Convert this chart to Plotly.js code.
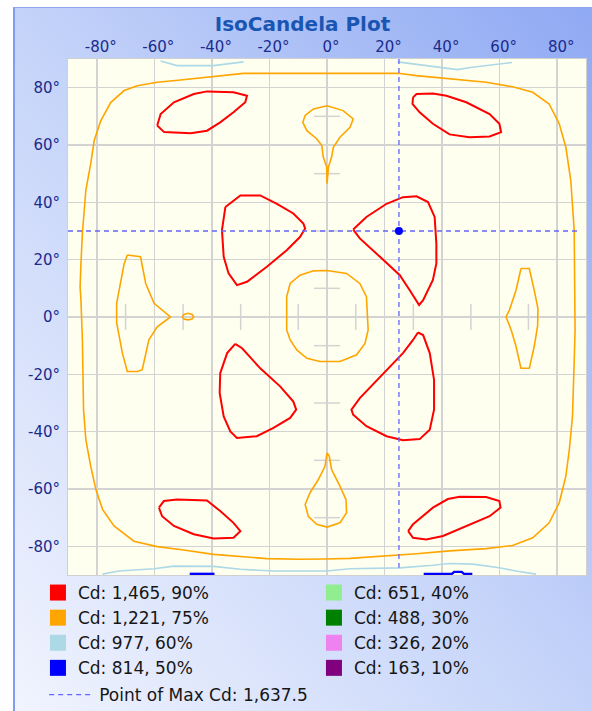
<!DOCTYPE html>
<html><head><meta charset="utf-8">
<script src="https://cdn.plot.ly/plotly-3.0.1.min.js"></script>
<style>
html,body{margin:0;padding:0;background:#fff;}
#wrap{position:relative;width:592px;height:711px;overflow:hidden;}
#frame{position:absolute;left:13px;top:7px;right:0;bottom:0;border-left:2px solid #7f9ef0;border-top:1px solid #8fa9f2;
background:linear-gradient(to top right,#f1f4fe 0%,#c4d3f9 50%,#8fa9f3 100%);}
#chart{position:absolute;left:0;top:0;width:592px;height:711px;}
</style></head><body>
<div id="wrap"><div id="frame"></div><div id="chart"></div></div>
<script>
// ---------- data (degrees) ----------
const levelCd = [1465, 1221, 977, 814, 651, 488, 326, 163];
const levelPct = [90, 75, 60, 50, 40, 30, 20, 10];
const levelColors = ['#ff0000', '#ffa500', '#add8e6', '#0000ff', '#90ee90', '#008000', '#ee82ee', '#800080'];
const maxCd = 1637.5;
const maxAt = [25, 30];
const gridEdge = 87.5;
const axisTicks = [-80, -60, -40, -20, 0, 20, 40, 60, 80];
const centerTicks = [-70, -50, -30, -10, 10, 30, 50, 70];

// 90 % contours (red)
const redUpperLeft = [[-59.0,66.8],[-57.8,70.8],[-53.2,74.9],[-46.3,77.8],[-41.7,78.7],[-32.5,78.4],[-27.8,77.2],[-28.4,74.9],[-32.5,71.4],[-37.1,67.9],[-41.7,65.0],[-47.4,64.1],[-56.6,64.5],[-59.0,66.8]];
const redUpperRight = [[29.9,76.6],[31.1,77.8],[36.8,78.0],[41.5,77.2],[48.4,74.9],[56.5,70.8],[59.9,67.4],[60.5,64.5],[56.5,63.0],[49.5,62.7],[42.6,63.7],[36.8,67.4],[32.2,71.4],[29.7,74.3],[29.9,76.6]];
const redMidUpperLeft = [[-35.3,38.4],[-30.1,42.4],[-23.2,42.4],[-17.4,39.5],[-11.7,36.1],[-8.2,32.6],[-7.6,30.9],[-9.4,27.9],[-14.0,23.3],[-20.9,17.5],[-27.8,12.3],[-31.3,11.1],[-34.2,15.2],[-35.9,21.0],[-36.5,30.3],[-35.3,38.4]];
const redMidUpperRight = [[9.1,30.5],[13.7,34.9],[20.7,39.5],[26.4,41.8],[31.1,42.1],[35.1,40.1],[37.4,34.9],[38.0,25.6],[38.0,18.7],[36.8,12.9],[33.4,5.9],[32.0,4.2],[28.7,9.4],[25.3,14.6],[18.4,21.0],[11.4,27.4],[9.1,30.5]];
const redMidLowerLeft = [[-31.9,-9.4],[-29.5,-10.9],[-23.2,-17.9],[-16.3,-24.2],[-11.7,-29.5],[-10.7,-32.3],[-12.8,-35.2],[-18.6,-38.7],[-24.4,-41.6],[-31.3,-42.2],[-33.6,-39.9],[-35.9,-34.7],[-37.3,-26.5],[-37.1,-19.6],[-34.7,-12.6],[-31.9,-9.4]];
const redMidLowerRight = [[31.6,-5.4],[33.4,-6.3],[35.7,-12.6],[37.2,-21.9],[37.2,-32.3],[35.7,-39.3],[32.2,-42.6],[26.4,-43.0],[20.7,-41.6],[13.7,-38.1],[9.1,-34.1],[8.5,-32.3],[11.4,-28.3],[20.7,-18.4],[26.4,-12.6],[29.9,-8.0],[31.6,-5.4]];
const redLowerLeft = [[-58.4,-66.5],[-56.7,-64.2],[-52.1,-63.7],[-41.7,-64.0],[-37.1,-67.7],[-32.5,-71.8],[-30.1,-74.7],[-32.5,-77.0],[-39.4,-77.3],[-46.3,-75.8],[-53.2,-72.9],[-57.3,-69.5],[-58.4,-66.5]];
const redLowerRight = [[28.2,-74.7],[29.9,-72.3],[36.8,-66.5],[42.0,-63.5],[46.1,-62.7],[55.3,-62.8],[59.9,-64.2],[60.3,-66.5],[56.5,-69.5],[48.4,-72.9],[40.3,-76.4],[34.5,-77.6],[29.9,-77.0],[28.2,-74.7]];

// 75 % contours (orange)
const orangeOuter = [[-29.0,85.0],[11.4,85.0],[24.7,85.0],[31.1,84.2],[42.6,83.0],[55.3,81.9],[64.5,80.3],[71.5,78.4],[77.2,74.3],[80.7,67.4],[83.0,59.2],[84.7,47.7],[85.9,30.3],[86.2,5.9],[86.2,-4.5],[85.9,-15.5],[85.3,-34.7],[84.2,-46.3],[83.0,-55.5],[80.7,-64.8],[77.2,-71.8],[71.5,-77.0],[64.5,-79.7],[55.3,-80.8],[42.6,-81.6],[31.1,-82.6],[19.5,-83.4],[8.0,-84.2],[-0.7,-84.4],[-9.4,-84.5],[-20.9,-84.3],[-30.1,-83.6],[-39.4,-82.8],[-49.8,-81.3],[-59.0,-80.1],[-67.1,-78.2],[-74.0,-72.9],[-78.0,-67.1],[-80.3,-60.2],[-82.1,-52.1],[-83.8,-42.8],[-84.6,-32.3],[-85.0,-8.0],[-85.5,5.9],[-85.8,10.5],[-85.5,18.7],[-85.0,29.2],[-83.8,44.2],[-82.1,53.5],[-80.9,61.6],[-78.6,68.5],[-75.1,74.9],[-70.5,79.0],[-65.9,80.7],[-59.0,81.9],[-50.9,82.7],[-39.4,83.8],[-29.0,85.0]];
const orangeCenter = [[0,16.2],[6.8,15.2],[11.4,11.7],[13.7,7.1],[14.3,-4.5],[13.2,-9.2],[10.3,-13.2],[4.5,-15.5],[-2.4,-15.5],[-7.0,-14.4],[-10.5,-11.5],[-12.8,-8.0],[-14.0,-4.5],[-14.0,7.1],[-12.8,11.7],[-9.4,14.6],[-4.7,16.1],[0,16.2]];
const orangeTopDrop = [[0,46.5],[-0.1,52.3],[-1.3,55.8],[-1.8,59.8],[-3.6,62.2],[-7.0,65.0],[-8.4,67.9],[-7.6,70.3],[-4.7,72.6],[0,73.7],[5.6,72.0],[9.1,69.1],[8.0,66.2],[4.5,62.7],[2.2,59.2],[1.6,55.8],[0.5,52.3],[0,46.5]];
const orangeBottomDrop = [[0,-47.4],[-0.7,-52.1],[-3.0,-56.7],[-5.9,-61.3],[-7.6,-65.4],[-6.5,-69.5],[-3.6,-72.3],[0,-73.3],[4.5,-71.8],[6.8,-68.3],[6.6,-63.7],[4.5,-59.0],[1.6,-53.2],[0.8,-48.6],[0,-47.4]];
const orangeLeftArrow = [[-69.4,21.6],[-64.8,21.0],[-63.0,11.7],[-60.1,4.8],[-54.4,0],[-59.0,-3.4],[-61.9,-8.0],[-64.2,-18.4],[-65.9,-19.0],[-69.4,-19.0],[-71.1,-12.6],[-72.3,-5.7],[-73.1,-2.0],[-73.1,4.8],[-71.7,12.9],[-70.5,18.5],[-69.4,21.6]];
const orangeSmallRing = [[-50.3,0.1],[-49.7,0.9],[-48.3,1.3],[-46.9,0.9],[-46.3,0.1],[-46.9,-0.7],[-48.3,-1.0],[-49.7,-0.7],[-50.3,0.1]];
const orangeRightArrow = [[67.4,16.9],[70.3,16.9],[72.0,9.4],[73.3,3.0],[73.2,-3.0],[72.0,-10.3],[70.3,-17.9],[67.4,-17.9],[65.7,-10.3],[64.0,-4.5],[62.2,0.1],[63.4,2.4],[65.7,9.4],[67.4,16.9]];

// 60 % contours (light blue, partly outside the window)
const lightBlueTopLeft = [[-57.8,89.3],[-55.0,88.6],[-52.1,87.7],[-39.4,87.7],[-34.0,88.3],[-29.0,89.0]];
const lightBlueTopRight = [[24.5,89.0],[30.8,88.2],[40.1,87.1],[45.3,86.3],[50.5,87.1],[58.5,88.2],[64.3,88.8]];
const lightBlueBottom = [[-78.0,-89.7],[-72.3,-88.6],[-60.1,-87.8],[-53.2,-86.9],[-39.4,-87.0],[-30.1,-88.0],[-18.6,-88.6],[-0.1,-88.6],[8.0,-87.8],[25.3,-87.5],[36.8,-86.6],[42.6,-86.0],[50.7,-86.2],[59.9,-87.5],[65.7,-88.6],[72.6,-89.7]];

// 50 % contours (blue, at the lower edge)
const blueBottomLeft = [[-47.7,-89.6],[-39.1,-89.6]];
const blueBottomRight = [[33.6,-89.6],[43.4,-89.6],[44.2,-88.9],[46.8,-88.9],[47.6,-89.6],[50.5,-89.6]];

const contours90 = [redUpperLeft, redUpperRight, redMidUpperLeft, redMidUpperRight, redMidLowerLeft, redMidLowerRight, redLowerLeft, redLowerRight];
const contours75 = [orangeOuter, orangeCenter, orangeTopDrop, orangeBottomDrop, orangeLeftArrow, orangeSmallRing, orangeRightArrow];
const contours60 = [lightBlueTopLeft, lightBlueTopRight, lightBlueBottom];
const contours50 = [blueBottomLeft, blueBottomRight];

// ---------- helpers ----------
function joinRings(rings) {
  const x = [], y = [];
  rings.forEach(r => { r.forEach(p => { x.push(p[0]); y.push(p[1]); }); x.push(null); y.push(null); });
  return {x, y};
}
function fmt(n) { return String(n).replace(/\B(?=(\d{3})+(?!\d))/g, ','); }

const xRange = [-90, 90], yRange = [-90, 90];
const gridColor = '#d3d3d3';
const traces = [];

// small centre-axis ticks
traces.push({x: centerTicks, y: centerTicks.map(() => 0), mode: 'markers', type: 'scatter', showlegend: false, hoverinfo: 'skip',
  marker: {symbol: 'line-ns', size: 18.5, line: {color: gridColor, width: 1.5}}});
traces.push({x: centerTicks.map(() => 0), y: centerTicks, mode: 'markers', type: 'scatter', showlegend: false, hoverinfo: 'skip',
  marker: {symbol: 'line-ew', size: 18.5, line: {color: gridColor, width: 1.5}}});

// contour lines
[[contours50, 3, 2.4], [contours60, 2, 1.6], [contours75, 1, 1.6], [contours90, 0, 2.0]].forEach(([rings, idx, w]) => {
  const d = joinRings(rings);
  traces.push({x: d.x, y: d.y, mode: 'lines', type: 'scatter', showlegend: false, hoverinfo: 'skip',
    line: {color: levelColors[idx], width: w}, connectgaps: false});
});

// crosshair at max
traces.push({x: [xRange[0], gridEdge, null, maxAt[0], maxAt[0]], y: [maxAt[1], maxAt[1], null, yRange[1], -gridEdge],
  mode: 'lines', type: 'scatter', name: 'Point of Max Cd: ' + fmt(Math.floor(maxCd)) + '.' + String(maxCd).split('.')[1],
  legend: 'legend2', showlegend: true, hoverinfo: 'skip',
  line: {color: 'rgb(100,100,250)', width: 1.3, dash: '5px,4px'}});
traces.push({x: [maxAt[0]], y: [maxAt[1]], mode: 'markers', type: 'scatter', showlegend: false, hoverinfo: 'skip',
  marker: {color: '#0000ff', size: 8}});

// legend entries: two columns (left: first four levels, right: last four)
const order = [0, 4, 1, 5, 2, 6, 3, 7];
order.forEach(i => {
  traces.push({x: [null], y: [null], mode: 'markers', type: 'scatter', name: 'Cd: ' + fmt(levelCd[i]) + ', ' + levelPct[i] + '%',
    legend: 'legend', showlegend: true, marker: {symbol: 'square', size: 16, color: levelColors[i]}});
});

const tickFont = {family: 'DejaVu Sans', size: 15, color: '#1b2b8c'};
const axisCommon = {
  tickvals: axisTicks, ticktext: axisTicks.map(v => v + '°'), ticks: '', showgrid: true, gridcolor: gridColor, gridwidth: 1.5,
  zeroline: false, showline: true, mirror: true, linecolor: '#d0d0d0', linewidth: 1, tickfont: tickFont, fixedrange: true, automargin: false
};
const legendFont = {family: 'DejaVu Sans', size: 17, color: '#161616'};
const layout = {
  width: 592, height: 711,
  margin: {l: 68, r: 6, t: 59, b: 136, pad: 0, autoexpand: false},
  paper_bgcolor: 'rgba(0,0,0,0)', plot_bgcolor: '#fffff0',
  title: {text: 'IsoCandela Plot', x: 0.511, xref: 'container', xanchor: 'center', y: 1 - 23.5 / 711, yref: 'container', yanchor: 'middle',
    font: {family: 'DejaVu Sans', size: 20, weight: 'bold', color: '#1955b2'}},
  xaxis: Object.assign({}, axisCommon, {range: xRange, side: 'top', ticklabelshift: 4}),
  yaxis: Object.assign({}, axisCommon, {range: yRange, ticklabelstandoff: 4}),
  legend: {orientation: 'h', x: -0.058, xanchor: 'left', y: 0, yanchor: 'top', entrywidth: 231, entrywidthmode: 'pixels',
    font: legendFont, bgcolor: 'rgba(0,0,0,0)', traceorder: 'normal', itemclick: false, itemdoubleclick: false},
  legend2: {orientation: 'h', x: -0.046, xanchor: 'left', y: -0.198, yanchor: 'top', font: legendFont, bgcolor: 'rgba(0,0,0,0)',
    itemclick: false, itemdoubleclick: false, itemwidth: 45},
  showlegend: true
};
Plotly.newPlot('chart', traces, layout, {displayModeBar: false, staticPlot: true});
</script></body></html>
